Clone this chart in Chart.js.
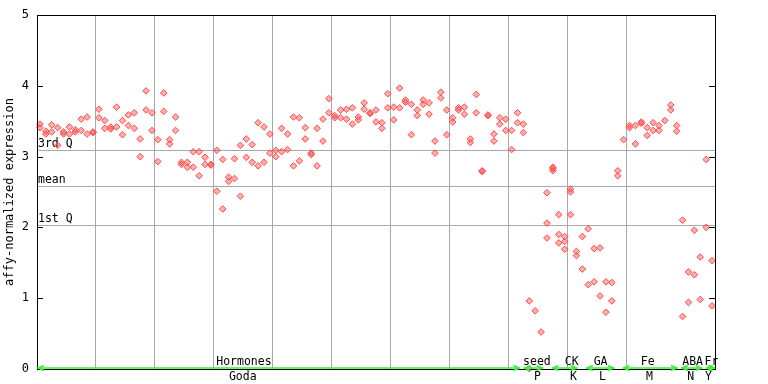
<!DOCTYPE html>
<html>
<head>
<meta charset="utf-8">
<script src="https://cdn.jsdelivr.net/npm/chart.js@4.4.0/dist/chart.umd.min.js"></script>
<style>
  html, body { margin: 0; padding: 0; background: #fff; }
</style>
</head>
<body>
<canvas id="chart" width="768" height="384"></canvas>
<script>
/* === DATA === */
// replicate values per sample (samples 1..115), null = no point
const rep1 = [
  3.46, 3.36, 3.45, 3.41, 3.35, 3.42, 3.38, 3.53, 3.56, 3.35,
  3.67, 3.51, 3.42, 3.70, 3.51, 3.59, 3.62, 3.25, 3.93, 3.62,
  3.24, 3.90, 3.24, 3.56, 2.92, 2.92, 3.07, 3.07, 2.99, 2.89,
  3.09, 2.96, 2.71, 2.97, 3.16, 3.25, 3.17, 3.48, 3.42, 3.32,
  3.09, 3.40, 3.32, 3.56, 3.55, 3.41, 3.05, 3.40, 3.53, 3.82,
  3.58, 3.66, 3.67, 3.69, 3.56, 3.76, 3.62, 3.66, 3.48, 3.89,
  3.70, 3.97, 3.80, 3.74, 3.66, 3.80, 3.76, 3.22, 3.91, 3.66,
  3.55, 3.69, 3.70, 3.25, 3.88, 2.80, 3.59, 3.32, 3.55, 3.53,
  3.37, 3.62, 3.46, 0.96, 0.82, 0.52, 2.49, 2.85, 2.18, 1.87,
  2.54, 1.66, 1.87, 1.98, 1.70, 1.71, 1.23, 1.22, 2.80, 3.24,
  3.44, 3.44, 3.49, 3.41, 3.48, 3.44, 3.51, 3.73, 3.44, 2.10,
  1.37, 1.96, 1.58, 2.96, 1.53
];
const rep2 = [
  3.41, 3.32, 3.35, 3.16, 3.32, 3.32, 3.35, 3.37, 3.32, 3.34,
  3.55, 3.40, 3.39, 3.42, 3.31, 3.44, 3.40, 3.00, 3.66, 3.37,
  2.93, 3.64, 3.18, 3.37, 2.89, 2.85, 2.85, 2.73, 2.89, 2.88,
  2.51, 2.26, 2.65, 2.69, 2.44, 2.99, 2.92, 2.87, 2.92, 3.05,
  3.00, 3.07, 3.10, 2.87, 2.94, 3.25, 3.03, 2.87, 3.22, 3.62,
  3.55, 3.55, 3.53, 3.46, 3.52, 3.67, 3.61, 3.49, 3.40, 3.69,
  3.52, 3.69, 3.77, 3.31, 3.58, 3.74, 3.60, 3.05, 3.83, 3.31,
  3.49, 3.66, 3.60, 3.20, 3.62, 2.79, 3.58, 3.22, 3.46, 3.37,
  3.10, 3.48, 3.34, 0.00, null, null, 2.06, 2.83, 1.90, 1.80,
  2.50, 1.60, 1.41, 1.19, 1.23, 1.03, 0.80, 0.96, 2.73, null,
  3.41, 3.18, 3.47, 3.30, 3.37, 3.37, null, 3.66, 3.36, 0.74,
  0.94, 1.33, 0.98, 2.00, 0.89
];
const rep3Samples = [87, 88, 89, 90, 91];
const rep3Values = [1.85, 2.80, 1.78, 1.69, 2.18];

const sampleCount = 115;
const statQ3 = 3.10;
const statMean = 2.58;
const statQ1 = 2.04;

// experiment groups along the bottom (in sample units)
const groupNames = ['Hormones', 'seed', 'CK', 'GA', 'Fe', 'ABA', 'Fr'];
const groupSubs = ['Goda', 'P', 'K', 'L', 'M', 'N', 'Y'];
const groupStart = [0, 82.5, 87.3, 93.1, 99.3, 109.2, 113.4];
const groupEnd = [82.0, 85.9, 91.7, 98.0, 108.7, 112.9, 115];
const nameAt = [35.1, 84.8, 90.7, 95.6, 103.6, 111.2, 114.4];
const subAt = [34.9, 84.9, 91.0, 95.9, 103.9, 110.9, 113.9];

/* === HELPERS === */
function toPoints(values) {
  const pts = [];
  values.forEach((v, i) => {
    if (v !== null) pts.push({ x: i + 0.5, y: v });
  });
  return pts;
}

const rep3 = rep3Samples.map((s, i) => ({ x: s - 0.5, y: rep3Values[i] }));

const MONO = "'DejaVu Sans Mono', monospace";
const GRID = '#a8a8a8';
const GREEN = '#3cf03c';

const decorations = {
  id: 'decorations',
  beforeDatasetsDraw(chart) {
    const { ctx, chartArea: a, scales: { x, y } } = chart;
    ctx.save();
    ctx.strokeStyle = GRID;
    ctx.lineWidth = 1;
    ctx.fillStyle = '#000';
    ctx.font = '11.5px ' + MONO;
    ctx.textAlign = 'left';
    ctx.textBaseline = 'bottom';
    [[statQ3, '3rd Q'], [statMean, 'mean'], [statQ1, '1st Q']].forEach(([v, txt]) => {
      const py = Math.round(y.getPixelForValue(v)) + 0.5;
      ctx.beginPath();
      ctx.moveTo(a.left, py);
      ctx.lineTo(a.right, py);
      ctx.stroke();
      ctx.fillText(txt, a.left + 1, py - 1);
    });
    ctx.restore();
  },
  afterDatasetsDraw(chart) {
    const { ctx, chartArea: a, scales: { x, y } } = chart;
    ctx.save();
    // frame
    ctx.strokeStyle = '#000';
    ctx.lineWidth = 1;
    ctx.strokeRect(Math.round(a.left) + 0.5, Math.round(a.top) + 0.5,
      Math.round(a.right - a.left), Math.round(a.bottom - a.top));
    // inner tick marks
    for (let v = 1; v <= 4; v++) {
      const py = Math.round(y.getPixelForValue(v)) + 0.5;
      ctx.beginPath();
      ctx.moveTo(a.left, py); ctx.lineTo(a.left + 6, py);
      ctx.moveTo(a.right - 6, py); ctx.lineTo(a.right, py);
      ctx.stroke();
    }
    // group arrows
    const gy = Math.round(a.bottom) - 1;
    ctx.strokeStyle = GREEN;
    ctx.lineWidth = 1.5;
    groupStart.forEach((s, i) => {
      const x0 = x.getPixelForValue(s);
      const x1 = x.getPixelForValue(groupEnd[i]);
      ctx.beginPath();
      ctx.moveTo(x0, gy); ctx.lineTo(x1, gy);
      ctx.moveTo(x0 + 7, gy - 2.5); ctx.lineTo(x0 + 1, gy); ctx.lineTo(x0 + 7, gy + 2.5);
      ctx.moveTo(x1 - 7, gy - 2.5); ctx.lineTo(x1 - 1, gy); ctx.lineTo(x1 - 7, gy + 2.5);
      ctx.stroke();
    });
    // group labels
    ctx.fillStyle = '#000';
    ctx.font = '11.5px ' + MONO;
    ctx.textAlign = 'center';
    ctx.textBaseline = 'middle';
    groupNames.forEach((n, i) => {
      ctx.fillText(n, x.getPixelForValue(nameAt[i]), a.bottom - 6.5);
      ctx.fillText(groupSubs[i], x.getPixelForValue(subAt[i]), a.bottom + 8);
    });
    ctx.restore();
  }
};

const pointStyle = {
  pointStyle: 'rectRot',
  pointRadius: 3.3,
  pointBorderWidth: 1,
  borderColor: '#ff4c4c',
  backgroundColor: 'rgba(255,76,76,0.45)',
  showLine: false,
  clip: false
};

new Chart(document.getElementById('chart'), {
  type: 'scatter',
  data: {
    datasets: [
      Object.assign({ label: 'rep1', data: toPoints(rep1) }, pointStyle),
      Object.assign({ label: 'rep2', data: toPoints(rep2) }, pointStyle),
      Object.assign({ label: 'rep3', data: rep3 }, pointStyle)
    ]
  },
  options: {
    responsive: false,
    animation: false,
    layout: { padding: { left: 0, right: 53, top: 13, bottom: 15 } },
    plugins: { legend: { display: false }, tooltip: { enabled: false } },
    scales: {
      x: {
        type: 'linear',
        min: 0,
        max: sampleCount,
        ticks: { display: false, stepSize: 10 },
        grid: { color: GRID, lineWidth: 1, drawTicks: false },
        border: { display: false },
        afterFit(scale) { scale.height = 0; }
      },
      y: {
        min: 0,
        max: 5,
        ticks: {
          stepSize: 1,
          color: '#000',
          padding: 8,
          font: { family: MONO, size: 12 }
        },
        grid: { display: false, drawTicks: false },
        border: { display: false },
        title: {
          display: true,
          text: 'affy-normalized expression',
          color: '#000',
          font: { family: MONO, size: 12 },
          padding: { top: 3, bottom: 0 }
        },
        afterFit(scale) { scale.width = 37; }
      }
    }
  },
  plugins: [decorations]
});
</script>
</body>
</html>
